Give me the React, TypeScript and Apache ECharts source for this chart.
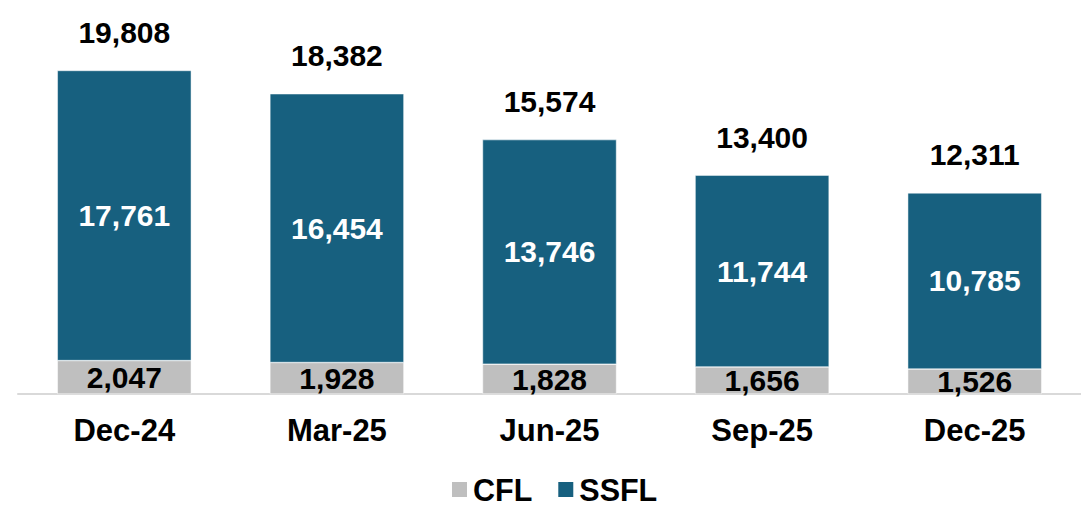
import React, { useEffect, useRef } from "react";
import * as echarts from "echarts";

const categories = ["Dec-24", "Mar-25", "Jun-25", "Sep-25", "Dec-25"];
const cflValues = [2047, 1928, 1828, 1656, 1526];
const ssflValues = [17761, 16454, 13746, 11744, 10785];
const totalValues = [19808, 18382, 15574, 13400, 12311];

const FONT = "'Liberation Sans', Arial, sans-serif";
const fmt = (v: number) => v.toLocaleString("en-US");

export default function App() {
  const ref = useRef<HTMLDivElement>(null);
  useEffect(() => {
    document.body.style.margin = "0";
    const chart = echarts.init(ref.current!, null, { renderer: "svg" });
    chart.setOption({
      animation: false,
      backgroundColor: "#ffffff",
      textStyle: { fontFamily: FONT },
      grid: { left: 18, right: 0, top: 2, bottom: 111 },
      legend: {
        data: ["CFL", "SSFL"],
        top: 474,
        left: 450,
        padding: 0,
        itemWidth: 17,
        itemHeight: 17,
        itemGap: 24,
        icon: "rect",
        textStyle: { fontSize: 30.5, lineHeight: 27, fontWeight: "bold", color: "#000", fontFamily: FONT },
      },
      xAxis: {
        type: "category",
        data: categories,
        axisLine: { show: true, lineStyle: { color: "#d9d9d9", width: 2 } },
        axisTick: { show: false },
        axisLabel: { fontSize: 31, fontWeight: "bold", color: "#000", margin: 21, fontFamily: FONT },
      },
      yAxis: { type: "value", min: 0, max: 24000, show: false, splitLine: { show: false } },
      series: [
        {
          name: "CFL",
          type: "bar",
          stack: "s",
          barWidth: 134,
          data: cflValues,
          itemStyle: { color: "#bfbfbf", borderColor: "#ffffff", borderWidth: 0.5 },
          label: {
            show: true,
            position: "inside",
            formatter: (p: any) => fmt(p.value),
            fontSize: 30,
            fontWeight: "bold",
            color: "#000",
            fontFamily: FONT,
          },
        },
        {
          name: "SSFL",
          type: "bar",
          stack: "s",
          barWidth: 134,
          data: ssflValues,
          itemStyle: { color: "#17607f", borderColor: "#ffffff", borderWidth: 0.5 },
          label: {
            show: true,
            position: "inside",
            formatter: (p: any) => fmt(p.value),
            fontSize: 30,
            fontWeight: "bold",
            color: "#fff",
            fontFamily: FONT,
          },
        },
        {
          name: "Total",
          type: "bar",
          stack: "s",
          barWidth: 134,
          data: totalValues.map(() => 0),
          itemStyle: { color: "transparent" },
          label: {
            show: true,
            position: "top",
            distance: 23,
            formatter: (p: any) => fmt(totalValues[p.dataIndex]),
            fontSize: 30,
            fontWeight: "bold",
            color: "#000",
            fontFamily: FONT,
          },
        },
      ],
    });
    return () => chart.dispose();
  }, []);
  return <div ref={ref} style={{ width: 1081, height: 505, position: "fixed", left: 0, top: 0 }} />;
}
